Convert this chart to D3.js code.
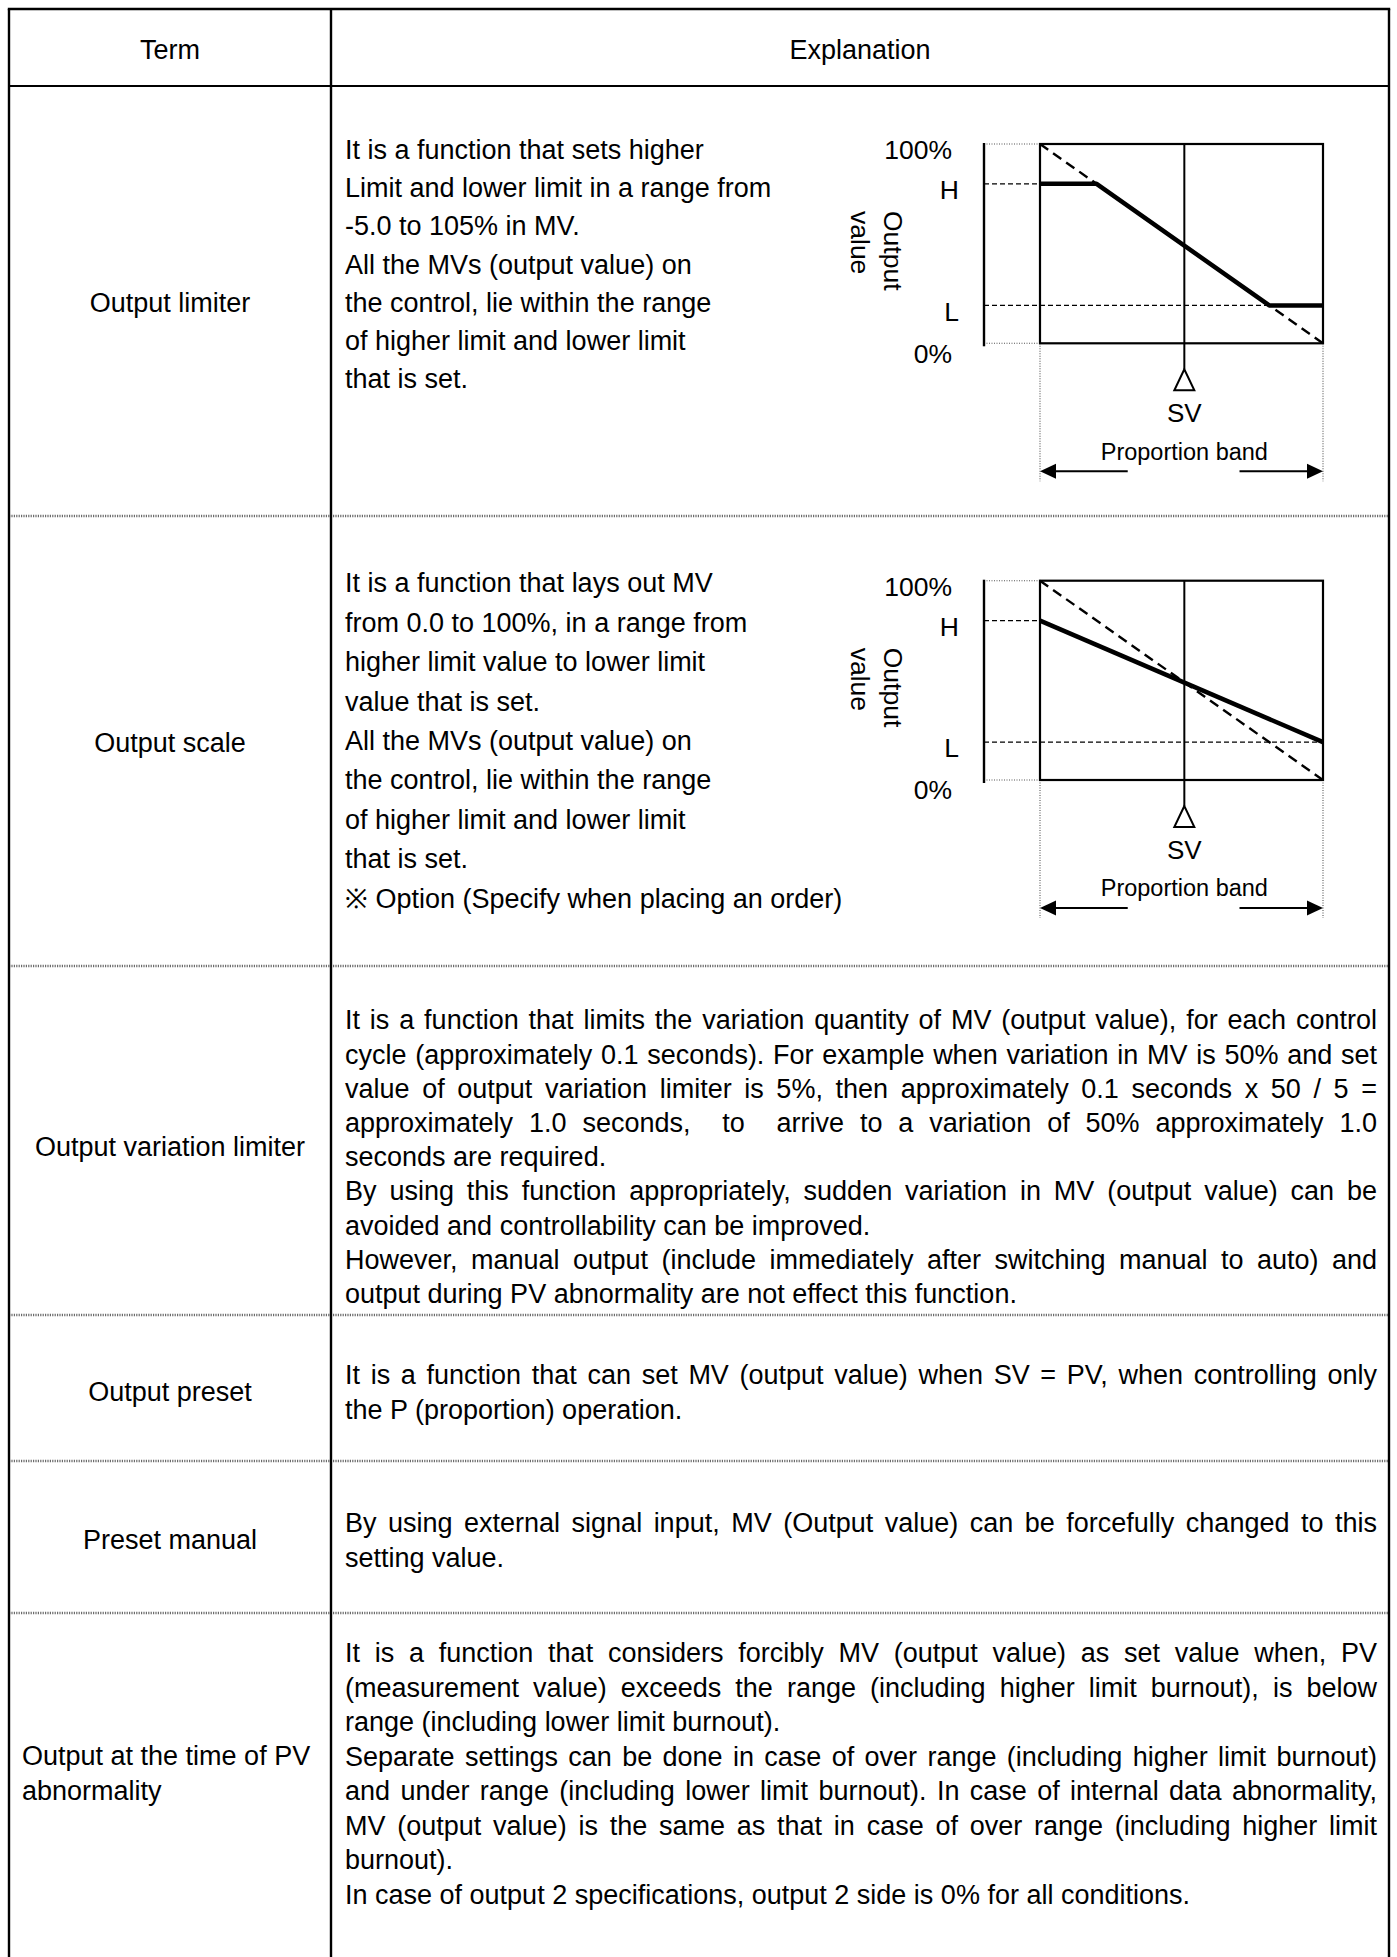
<!DOCTYPE html>
<html><head><meta charset="utf-8">
<script src="https://cdn.jsdelivr.net/npm/d3@7"></script>
<style>
body{margin:0;background:#fff}
svg{display:block}
text{font-family:"Liberation Sans", Arial, sans-serif; fill:#000}
</style>
</head><body>
<svg id="c" width="1397" height="1957"></svg>
<script>
// ---------------- DATA ----------------
const headers = ["Term", "Explanation"];
const terms = [
  ["Output limiter"],
  ["Output scale"],
  ["Output variation limiter"],
  ["Output preset"],
  ["Preset manual"],
  ["Output at the time of PV", "abnormality"]
];
const limiterText = [
  "It is a function that sets higher",
  "Limit and lower limit in a range from",
  "-5.0 to 105% in MV.",
  "All the MVs (output value) on",
  "the control, lie within the range",
  "of higher limit and lower limit",
  "that is set."
];
const scaleText = [
  "It is a function that lays out MV",
  "from 0.0 to 100%, in a range from",
  "higher limit value to lower limit",
  "value that is set.",
  "All the MVs (output value) on",
  "the control, lie within the range",
  "of higher limit and lower limit",
  "that is set.",
  "\u203B Option (Specify when placing an order)"
];
const variationParas = [
  ["It is a function that limits the variation quantity of MV (output value), for each control",
   "cycle (approximately 0.1 seconds). For example when variation in MV is 50% and set",
   "value of output variation limiter is 5%, then approximately 0.1 seconds x 50 / 5 =",
   "approximately 1.0 seconds,  to  arrive to a variation of 50% approximately 1.0",
   "seconds are required."],
  ["By using this function appropriately, sudden variation in MV (output value) can be",
   "avoided and controllability can be improved."],
  ["However, manual output (include immediately after switching manual to auto) and",
   "output during PV abnormality are not effect this function."]
];
const presetParas = [
  ["It is a function that can set MV (output value) when SV = PV, when controlling only",
   "the P (proportion) operation."]
];
const manualParas = [
  ["By using external signal input, MV (Output value) can be forcefully changed to this",
   "setting value."]
];
const abnormalParas = [
  ["It is a function that considers forcibly MV (output value) as set value when, PV",
   "(measurement value) exceeds the range (including higher limit burnout), is below",
   "range (including lower limit burnout)."],
  ["Separate settings can be done in case of over range (including higher limit burnout)",
   "and under range (including lower limit burnout). In case of internal data abnormality,",
   "MV (output value) is the same as that in case of over range (including higher limit",
   "burnout)."],
  ["In case of output 2 specifications, output 2 side is 0% for all conditions."]
];
// diagram values (x: position in proportion band %, y: output %)
const yTickLabels = ["100%", "H", "L", "0%"];
const yTickValues = [100, 80, 19, 0];
const highLimit = 80;
const lowLimit = 19;
const proportionalLine = [[0, 100], [100, 0]];
const limiterMV = [[0, 80], [20, 80], [81, 19], [100, 19]];
const scaleMV = [[0, 80], [100, 19]];
const svPosition = 51;
const axisTitle = ["Output", "value"];
const svLabel = "SV";
const bandLabel = "Proportion band";

// ---------------- LAYOUT ----------------
const svg = d3.select("#c");
const FONT = 27;
const tableL = 9, tableR = 1389, tableT = 9, colX = 331, headerB = 86, pageB = 1957;
const rowB = [516, 966, 1315, 1461, 1613];
const textL = 345, textR = 1377;

// row separators (gray dotted)
svg.selectAll("line.sep").data(rowB).join("line")
  .attr("x1", tableL).attr("x2", tableR).attr("y1", d => d).attr("y2", d => d)
  .attr("stroke", "#6a6a6a").attr("stroke-width", 2.4).attr("stroke-dasharray", "1.2 1.2");

// header bottom & top
svg.append("line").attr("x1", tableL).attr("x2", tableR).attr("y1", headerB).attr("y2", headerB)
  .attr("stroke", "#000").attr("stroke-width", 2.2);
svg.append("line").attr("x1", tableL - 1.2).attr("x2", tableR + 1.2).attr("y1", tableT).attr("y2", tableT)
  .attr("stroke", "#000").attr("stroke-width", 2.4);
// verticals
[tableL, colX, tableR].forEach(xv => {
  svg.append("line").attr("x1", xv).attr("x2", xv).attr("y1", tableT).attr("y2", pageB)
    .attr("stroke", "#000").attr("stroke-width", 2.4);
});

// headers
svg.append("text").attr("x", (tableL + colX) / 2).attr("y", 49.5).attr("dy", "0.35em")
  .attr("text-anchor", "middle").attr("font-size", FONT).text(headers[0]);
svg.append("text").attr("x", (colX + tableR) / 2).attr("y", 49.5).attr("dy", "0.35em")
  .attr("text-anchor", "middle").attr("font-size", FONT).text(headers[1]);

// text helpers
const tg = svg.append("g").attr("font-size", FONT);
function plainLine(str, y) {
  tg.append("text").attr("x", textL).attr("y", y).attr("dy", "0.35em").text(str);
}
function justLine(str, y) {
  const toks = str.split(" ");
  const nodes = toks.map(t => tg.append("text").attr("y", y).attr("dy", "0.35em").text(t));
  const ws = nodes.map(n => n.node().getComputedTextLength());
  const gap = (textR - textL - d3.sum(ws)) / (toks.length - 1);
  let xx = textL;
  nodes.forEach((n, i) => { n.attr("x", xx); xx += ws[i] + gap; });
}
function paraBlock(paras, y0, dy) {
  let i = 0;
  paras.forEach(p => p.forEach((ln, j) => {
    const y = y0 + dy * i;
    if (j < p.length - 1) justLine(ln, y); else plainLine(ln, y);
    i++;
  }));
}

limiterText.forEach((ln, i) => plainLine(ln, 149.5 + 38.2 * i));
scaleText.forEach((ln, i) => plainLine(ln, 583 + 39.4 * i));
paraBlock(variationParas, 1020, 34.2);
paraBlock(presetParas, 1375, 35);
paraBlock(manualParas, 1523, 35);
paraBlock(abnormalParas, 1653, 34.5);

// term column
const termY = [[303], [743], [1147], [1392], [1540], [1756, 1790.5]];
terms.forEach((t, i) => {
  t.forEach((s, j) => {
    const multi = t.length > 1;
    tg.append("text").attr("x", multi ? 22 : (tableL + colX) / 2).attr("y", termY[i][j])
      .attr("dy", "0.35em").attr("text-anchor", multi ? "start" : "middle").text(s);
  });
});

// ---------------- DIAGRAMS ----------------
function drawDiagram(top, bottom, mv) {
  const g = svg.append("g");
  const x = d3.scaleLinear().domain([0, 100]).range([1040, 1323]);
  const y = d3.scaleLinear().domain([0, 100]).range([bottom, top]);
  const axisX = 984;
  const line = d3.line().x(d => x(d[0])).y(d => y(d[1]));
  // dotted connectors
  [100, 0].forEach(v => g.append("line").attr("x1", axisX).attr("x2", x(0)).attr("y1", y(v)).attr("y2", y(v))
    .attr("stroke", "#555").attr("stroke-width", 1.1).attr("stroke-dasharray", "1 1.5"));
  // dotted verticals below frame
  [0, 100].forEach(v => g.append("line").attr("x1", x(v)).attr("x2", x(v)).attr("y1", y(0)).attr("y2", bottom + 138)
    .attr("stroke", "#555").attr("stroke-width", 1.1).attr("stroke-dasharray", "1 1.5"));
  // H and L dashed
  g.append("line").attr("x1", axisX).attr("x2", x(0)).attr("y1", y(highLimit)).attr("y2", y(highLimit))
    .attr("stroke", "#000").attr("stroke-width", 1.3).attr("stroke-dasharray", "5 3");
  g.append("line").attr("x1", axisX).attr("x2", x(100)).attr("y1", y(lowLimit)).attr("y2", y(lowLimit))
    .attr("stroke", "#000").attr("stroke-width", 1.3).attr("stroke-dasharray", "5 3");
  // frame
  g.append("rect").attr("x", x(0)).attr("y", y(100)).attr("width", x(100) - x(0)).attr("height", y(0) - y(100))
    .attr("fill", "none").attr("stroke", "#000").attr("stroke-width", 2.2);
  // left axis
  g.append("line").attr("x1", axisX).attr("x2", axisX).attr("y1", top - 1).attr("y2", bottom + 3)
    .attr("stroke", "#000").attr("stroke-width", 2.4);
  // SV line
  const xs = x(svPosition);
  g.append("line").attr("x1", xs).attr("x2", xs).attr("y1", top).attr("y2", bottom + 26)
    .attr("stroke", "#000").attr("stroke-width", 2);
  // proportional dashed diagonal
  g.append("path").attr("d", line(proportionalLine)).attr("fill", "none")
    .attr("stroke", "#000").attr("stroke-width", 2.4).attr("stroke-dasharray", "10 6");
  // MV thick line
  g.append("path").attr("d", line(mv)).attr("fill", "none")
    .attr("stroke", "#000").attr("stroke-width", 4.5).attr("stroke-linejoin", "round");
  // triangle
  g.append("path").attr("d", `M${xs},${bottom + 26}L${xs - 10},${bottom + 47}L${xs + 10},${bottom + 47}Z`)
    .attr("fill", "#fff").attr("stroke", "#000").attr("stroke-width", 2);
  // tick labels
  yTickLabels.forEach((lab, i) => {
    const v = yTickValues[i];
    const isLetter = lab.length === 1;
    g.append("text").attr("x", isLetter ? 959 : 952).attr("y", y(v) + (v === 0 ? 10 : 6))
      .attr("dy", "0.35em").attr("text-anchor", "end").attr("font-size", 26.5).text(lab);
  });
  // axis title (rotated)
  const at = g.append("g").attr("transform", `translate(877,${top + 67}) rotate(90)`);
  axisTitle.forEach((s, i) => at.append("text").attr("x", 0).attr("y", -16 + 33 * i).attr("dy", "0.35em")
    .attr("font-size", 26.5).text(s));
  // SV and band labels
  g.append("text").attr("x", xs).attr("y", bottom + 70).attr("dy", "0.35em").attr("text-anchor", "middle")
    .attr("font-size", 26).text(svLabel);
  g.append("text").attr("x", xs).attr("y", bottom + 108).attr("dy", "0.35em").attr("text-anchor", "middle")
    .attr("font-size", 23.5).text(bandLabel);
  // arrows
  const ay = bottom + 128;
  g.append("line").attr("x1", x(0) + 10).attr("x2", x(31)).attr("y1", ay).attr("y2", ay)
    .attr("stroke", "#000").attr("stroke-width", 2);
  g.append("line").attr("x1", x(70.5)).attr("x2", x(100) - 10).attr("y1", ay).attr("y2", ay)
    .attr("stroke", "#000").attr("stroke-width", 2);
  g.append("path").attr("d", `M${x(0)},${ay}L${x(0) + 16},${ay - 7.5}L${x(0) + 16},${ay + 7.5}Z`).attr("fill", "#000");
  g.append("path").attr("d", `M${x(100)},${ay}L${x(100) - 16},${ay - 7.5}L${x(100) - 16},${ay + 7.5}Z`).attr("fill", "#000");
}
drawDiagram(144, 343.3, limiterMV);
drawDiagram(580.7, 780, scaleMV);
</script>
</body></html>
